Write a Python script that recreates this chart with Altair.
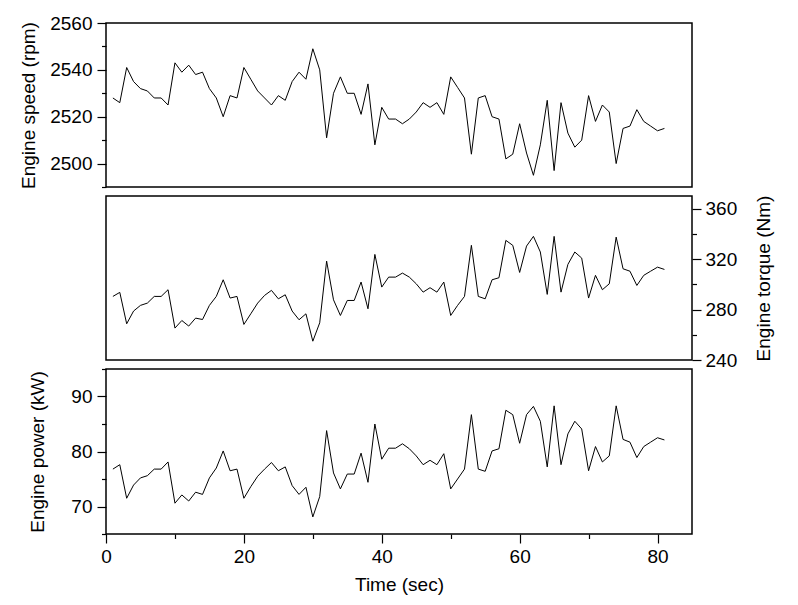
import altair as alt
import pandas as pd

time_s = list(range(1, 82))
speed = [2528, 2526, 2541, 2535, 2532, 2531, 2528, 2528, 2525, 2543,
         2539, 2542, 2538, 2539, 2532, 2528, 2520, 2529, 2528, 2541,
         2536, 2531, 2528, 2525, 2529, 2527, 2535, 2539, 2536, 2549,
         2540, 2511, 2530, 2537, 2530, 2530, 2521, 2534, 2508, 2524,
         2519, 2519, 2517, 2519, 2522, 2526, 2524, 2526, 2521, 2537,
         2532.5, 2528, 2504, 2528, 2529, 2520, 2519, 2502, 2504, 2517,
         2504.5, 2495, 2508, 2527, 2497, 2526, 2513, 2507, 2510, 2529,
         2518, 2525, 2522, 2500, 2515, 2516, 2523, 2518, 2516, 2514, 2515]
torque = [290.4, 293.6, 268.7, 278.8, 283.3, 285.1, 290.4, 290.4, 295.7, 265.3,
          271.3, 266.9, 273.2, 272.1, 283.3, 290.4, 303.6, 289.1, 290.4, 268.2,
          276.6, 285.1, 291.2, 295.2, 288.5, 291.7, 278.8, 271.9, 276.6, 254.9,
          269.5, 318.4, 287.7, 275.3, 287.2, 287.2, 301.8, 280.6, 323.7, 297.8,
          305.7, 305.7, 308.9, 305.7, 300.4, 293.8, 297.3, 293.8, 301.8, 275.3,
          283.3, 290.4, 330.9, 290.4, 288.5, 303.6, 305.2, 334.8, 330.9, 309.4,
          330.3, 338.0, 325.6, 292.0, 338.0, 293.8, 315.8, 325.6, 320.8, 289.1,
          307.1, 295.7, 300.4, 337.4, 312.3, 310.4, 299.1, 307.1, 310.4, 313.6, 311.8]
power = [76.8, 77.6, 71.5, 73.9, 75.2, 75.6, 76.8, 76.8, 78.1, 70.6,
         72.1, 71.0, 72.6, 72.2, 75.2, 77.0, 80.1, 76.5, 76.8, 71.5,
         73.6, 75.5, 76.8, 78.0, 76.5, 77.2, 73.8, 72.2, 73.5, 68.1,
         71.8, 83.8, 76.1, 73.2, 75.9, 75.9, 79.7, 74.4, 85.0, 78.6,
         80.6, 80.6, 81.4, 80.5, 79.2, 77.6, 78.4, 77.6, 79.6, 73.2,
         75.0, 76.8, 86.7, 76.8, 76.4, 80.1, 80.5, 87.5, 86.7, 81.5,
         86.7, 88.2, 85.5, 77.2, 88.3, 77.6, 83.2, 85.5, 84.1, 76.5,
         80.9, 78.1, 79.2, 88.3, 82.2, 81.7, 78.9, 80.9, 81.7, 82.5, 82.1]

speed_ticks = list(range(2490, 2561, 10))
torque_ticks = list(range(240, 361, 20))
power_ticks = list(range(65, 96, 5))
time_ticks = list(range(0, 81, 10))

df = pd.DataFrame({"t": time_s, "speed": speed, "torque": torque, "power": power})

FONT = "Liberation Sans"
FS = 19
W = 586


def tsize(step):
    return {"condition": {"test": f"datum.value % {step} === 0", "value": 9}, "value": 4.5}


def lexpr(step):
    return f"datum.value % {step} === 0 ? datum.label : ''"


xs = alt.Scale(domain=[0, 85], nice=False, zero=False)

top = alt.Chart(df).mark_line(color="black", strokeWidth=1).encode(
    x=alt.X("t:Q", scale=xs, axis=None),
    y=alt.Y("speed:Q", scale=alt.Scale(domain=[2490, 2560], nice=False, zero=False),
            axis=alt.Axis(title="Engine speed (rpm)", values=speed_ticks, format="d",
                          labelExpr=lexpr(20), tickSize=tsize(20), labelOverlap=False,
                          labelFlush=False, labelPadding=5, titlePadding=11)),
).properties(width=W, height=164)

mid = alt.Chart(df).mark_line(color="black", strokeWidth=1).encode(
    x=alt.X("t:Q", scale=xs, axis=None),
    y=alt.Y("torque:Q", scale=alt.Scale(domain=[240, 370], nice=False, zero=False),
            axis=alt.Axis(title="Engine torque (Nm)", orient="right", values=torque_ticks,
                          format="d", labelExpr=lexpr(40), tickSize=tsize(40),
                          labelOverlap=False, labelFlush=False, labelPadding=4,
                          titleAngle=270, titleBaseline="top", titlePadding=18)),
).properties(width=W, height=164)

bot = alt.Chart(df).mark_line(color="black", strokeWidth=1).encode(
    x=alt.X("t:Q", scale=xs,
            axis=alt.Axis(title="Time (sec)", values=time_ticks, format="d",
                          labelExpr=lexpr(20), tickSize=tsize(20), labelOverlap=False,
                          labelFlush=False, labelPadding=4, titlePadding=9)),
    y=alt.Y("power:Q", scale=alt.Scale(domain=[65, 95], nice=False, zero=False),
            axis=alt.Axis(title="Engine power (kW)", values=power_ticks, format="d",
                          labelExpr=lexpr(10), tickSize=tsize(10), labelOverlap=False,
                          labelFlush=False, labelPadding=5, titlePadding=23)),
).properties(width=W, height=165)

chart = alt.vconcat(top, mid, bot, spacing=9, bounds="flush").properties(
    padding={"left": 18, "top": 13, "right": 5, "bottom": 5},
    background="white",
).configure_view(
    stroke="black", strokeWidth=1.5
).configure_axis(
    grid=False, domain=False, tickColor="black", tickWidth=1.2,
    labelFont=FONT, labelFontSize=FS, labelColor="black",
    titleFont=FONT, titleFontSize=FS, titleColor="black", titleFontWeight="normal",
)

chart.save("out.html", embed_options={"renderer": "svg", "actions": False})
